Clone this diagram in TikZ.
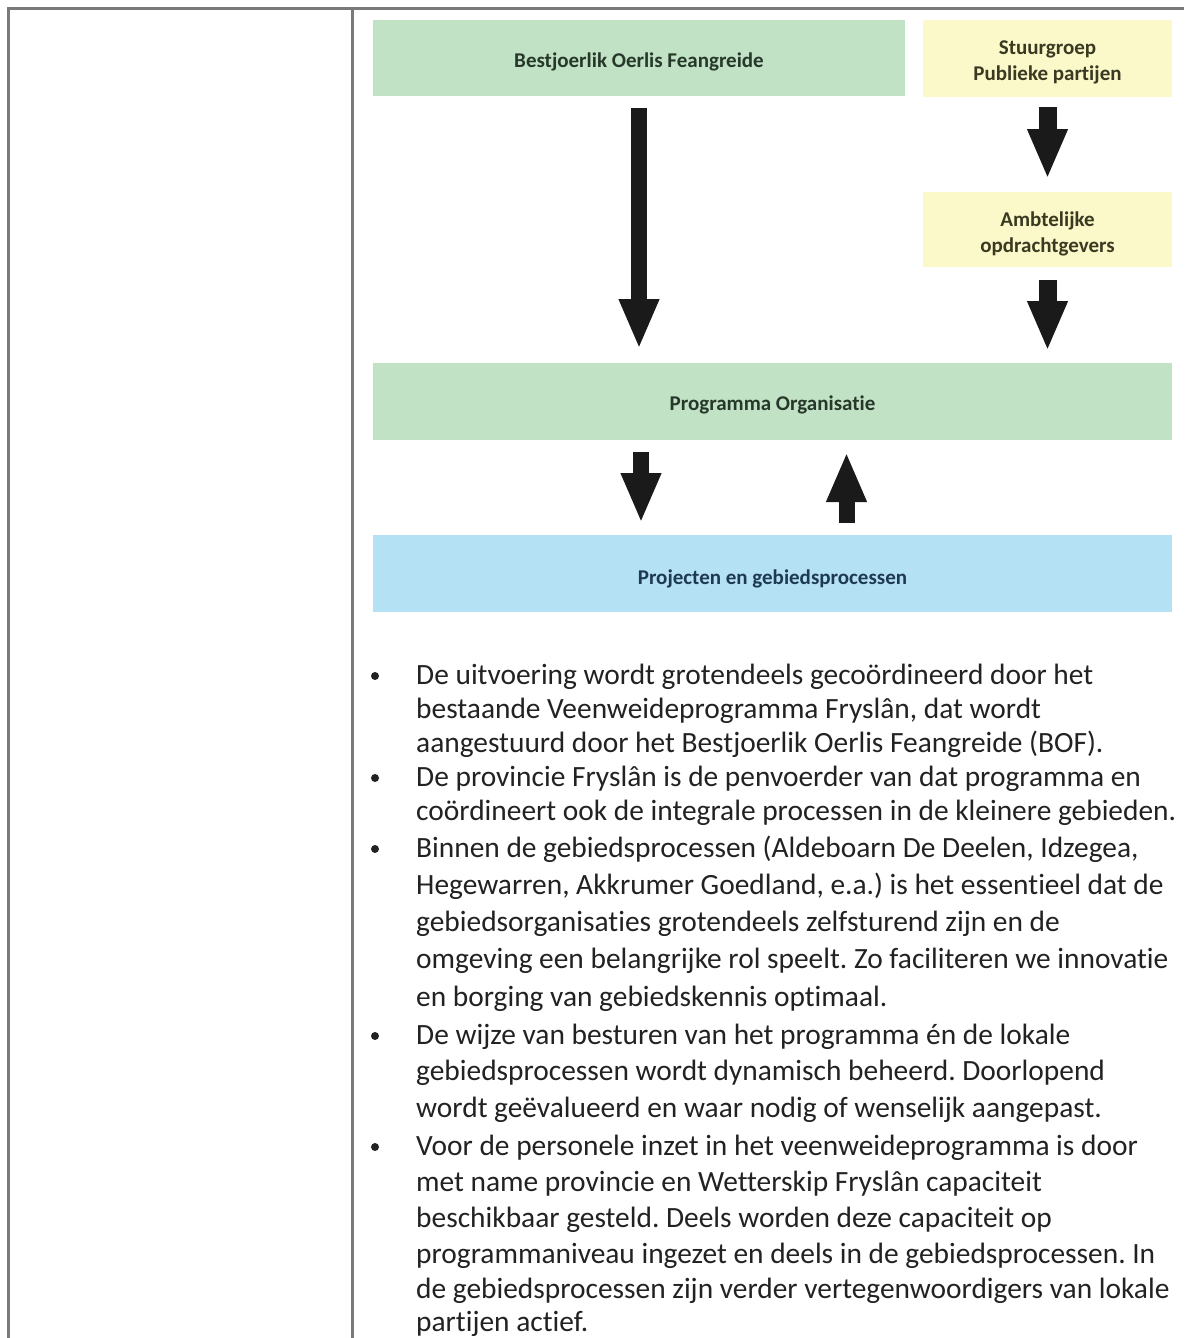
\documentclass[tikz,border=0pt]{standalone}
\usepackage{fontspec}
\setmainfont{Carlito}[Ligatures=NoCommon]
\usetikzlibrary{arrows.meta}
\frenchspacing
\definecolor{boxgreen}{HTML}{C2E2C5}
\definecolor{boxyellow}{HTML}{FBF8C9}
\definecolor{boxblue}{HTML}{B5E1F4}
\definecolor{gtext}{HTML}{26382A}
\definecolor{ytext}{HTML}{3A3A22}
\definecolor{btext}{HTML}{1E3A52}
\definecolor{rule}{HTML}{7A7A7A}
\definecolor{arrowc}{HTML}{1A1A1A}
\definecolor{bodytext}{HTML}{222222}
\begin{document}
\begin{tikzpicture}[x=1pt,y=-1pt,
  box/.style={rectangle,inner sep=0pt,outer sep=0pt,anchor=north west},
  lbl/.style={inner sep=0pt,align=center,font=\fontsize{21pt}{26pt}\selectfont\bfseries},
  greenbox/.style={box,fill=boxgreen},
  yellowbox/.style={box,fill=boxyellow},
  bluebox/.style={box,fill=boxblue},
  bigarrow/.style={draw=arrowc,line width=16pt,-{Triangle[width=37pt,length=50pt,fill=arrowc]}},
  line/.style={anchor=base west,inner sep=0pt,text=bodytext,font=\fontsize{29.4pt}{34pt}\selectfont\frenchspacing},
  bul/.style={circle,fill=bodytext,inner sep=0pt,minimum size=8pt}
]
\useasboundingbox (0,0) rectangle (1184,1338);
\fill[white] (0,0) rectangle (1184,1338);
% table rules
\draw[rule,line width=3pt] (8,1338) -- (8,9) -- (1184,9);
\draw[rule,line width=3pt] (352,9) -- (352,1338);

% boxes
\node[greenbox,minimum width=532pt,minimum height=76pt] (b1) at (373,20) {};
\node[yellowbox,minimum width=249pt,minimum height=77pt] (sg) at (923,20) {};
\node[yellowbox,minimum width=249pt,minimum height=75pt] (ao) at (923,192) {};
\node[greenbox,minimum width=799pt,minimum height=77pt] (po) at (373,363) {};
\node[bluebox,minimum width=799pt,minimum height=77pt] (pj) at (373,535) {};

% box labels
\node[lbl,text=gtext] (b1t) at ([yshift=-4pt]b1.center) {Bestjoerlik Oerlis Feangreide};
\node[lbl,text=ytext] (sgt) at ([yshift=-4pt]sg.center) {Stuurgroep\\Publieke partijen};
\node[lbl,text=ytext] (aot) at ([yshift=-4pt]ao.center) {Ambtelijke\\opdrachtgevers};
\node[lbl,text=gtext] (pot) at ([yshift=-3pt]po.center) {Programma Organisatie};
\node[lbl,text=btext] (pjt) at ([yshift=-5pt]pj.center) {Projecten en gebiedsprocessen};

% arrows
\draw[bigarrow,shorten <=12pt,shorten >=14pt] (b1.south) -- (b1.south |- po.north);
\draw[bigarrow,line width=18pt,shorten <=10pt,shorten >=13pt] (sg.south) -- (ao.north);
\draw[bigarrow,line width=18pt,shorten <=13pt,shorten >=12pt] (ao.south) -- (ao.south |- po.north);
\coordinate (dx) at (641,0);
\coordinate (ux) at (846.5,0);
\draw[bigarrow,shorten <=12pt,shorten >=12pt] (dx |- po.south) -- (dx |- pj.north);
\draw[bigarrow,shorten <=12pt,shorten >=12pt] (ux |- pj.north) -- (ux |- po.south);

% bullet text
\node[line] (l1) at (416,684) {De uitvoering wordt grotendeels gecoördineerd door het};
\node[line] (l2) at (416,718) {bestaande Veenweideprogramma Fryslân, dat wordt};
\node[line] (l3) at (416,752) {aangestuurd door het Bestjoerlik Oerlis Feangreide (BOF).};
\node[line] (l4) at (416,786) {De provincie Fryslân is de penvoerder van dat programma en};
\node[line] (l5) at (416,820) {coördineert ook de integrale processen in de kleinere gebieden.};
\node[line] (l6) at (416,857) {Binnen de gebiedsprocessen (Aldeboarn De Deelen, Idzegea,};
\node[line] (l7) at (416,894) {Hegewarren, Akkrumer Goedland, e.a.) is het essentieel dat de};
\node[line] (l8) at (416,931) {gebiedsorganisaties grotendeels zelfsturend zijn en de};
\node[line] (l9) at (416,968) {omgeving een belangrijke rol speelt. Zo faciliteren we innovatie};
\node[line] (l10) at (416,1006) {en borging van gebiedskennis optimaal.};
\node[line] (l11) at (416,1044) {De wijze van besturen van het programma én de lokale};
\node[line] (l12) at (416,1080) {gebiedsprocessen wordt dynamisch beheerd. Doorlopend};
\node[line] (l13) at (416,1117) {wordt geëvalueerd en waar nodig of wenselijk aangepast.};
\node[line] (l14) at (416,1155) {Voor de personele inzet in het veenweideprogramma is door};
\node[line] (l15) at (416,1191) {met name provincie en Wetterskip Fryslân capaciteit};
\node[line] (l16) at (416,1227) {beschikbaar gesteld. Deels worden deze capaciteit op};
\node[line] (l17) at (416,1263) {programmaniveau ingezet en deels in de gebiedsprocessen. In};
\node[line] (l18) at (416,1298) {de gebiedsprocessen zijn verder vertegenwoordigers van lokale};
\node[line] (l19) at (416,1331) {partijen actief.};

% bullets
\node[bul] (d1) at (375,676) {};
\node[bul] (d2) at (375,778) {};
\node[bul] (d3) at (375,849) {};
\node[bul] (d4) at (375,1036) {};
\node[bul] (d5) at (375,1147) {};
\end{tikzpicture}
\end{document}
